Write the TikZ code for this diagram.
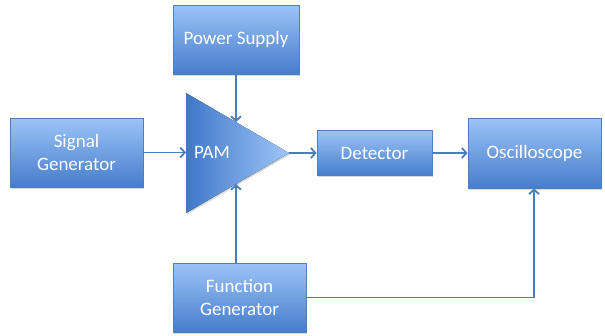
\documentclass[tikz,border=0pt]{standalone}
\usepackage{fontspec}
\setmainfont{Carlito}
\usetikzlibrary{arrows.meta,shadows,calc}
\definecolor{boxtop}{HTML}{9CC3F8}
\definecolor{boxbot}{HTML}{467DCB}
\definecolor{edge}{HTML}{4F7FBD}
\definecolor{wire}{HTML}{4A7EBB}
\definecolor{tridark}{HTML}{3F78C8}
\definecolor{trilight}{HTML}{9FC5F8}
\begin{document}
\begin{tikzpicture}[x=1pt,y=-1pt,
  box/.style={draw=edge, line width=0.8pt, top color=boxtop, bottom color=boxbot,
    text=white, font=\fontsize{19}{22.5}\selectfont, align=center, inner sep=0pt,
    drop shadow={opacity=0.3, shadow xshift=1pt, shadow yshift=-1.5pt}},
  conn/.style={draw=wire, line width=1.8pt, -{Straight Barb[length=4.5pt,width=10pt]}},
  lbl/.style={text=white, font=\fontsize{19}{22.5}\selectfont}]
\useasboundingbox (0,0) rectangle (605,335);

\node[box, minimum width=133pt, minimum height=69pt] (sig) at (76.5,152.5) {Signal\\Generator};
\node[box, minimum width=126pt, minimum height=69pt] (ps) at (236,39.5) {Power Supply};
\node[box, minimum width=115pt, minimum height=45pt] (det) at (374.5,153) {Detector};
\node[box, minimum width=133pt, minimum height=70pt] (osc) at (534.5,153) {Oscilloscope};
\node[box, minimum width=133pt, minimum height=69pt] (fg) at (239.5,297.5) {Function\\Generator};

\coordinate (t1) at (186,93);
\coordinate (t2) at (186,213);
\coordinate (tip) at (289,153);
\fill[left color=tridark, right color=trilight,
  drop shadow={opacity=0.3, shadow xshift=1pt, shadow yshift=-1.5pt}] (t1) -- (tip) -- (t2) -- cycle;
\node[lbl] (pam) at (212,152) {PAM};

\coordinate (pin) at (236,122);
\coordinate (fin) at (236,184);
\coordinate (cx) at (534,0);

\draw[conn] (sig.east) -- (sig.east -| t1);
\draw[conn] (ps.south -| pin) -- (pin);
\draw[conn] (fg.north -| fin) -- (fin);
\draw[conn] (tip) -- (tip -| det.west);
\draw[conn] (det.east) -- (det.east -| osc.west);
\draw[conn] (fg.east) -| (cx |- osc.south);
\end{tikzpicture}
\end{document}
